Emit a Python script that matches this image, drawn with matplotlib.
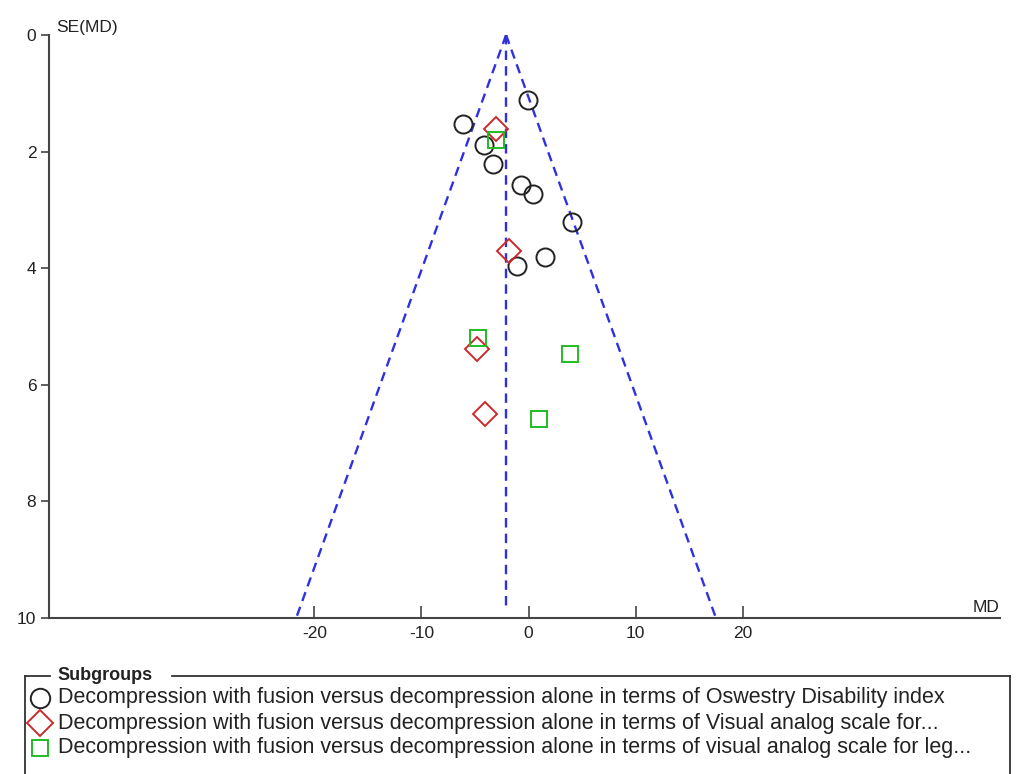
import matplotlib.pyplot as plt
import numpy as np

plt.rcParams['font.family'] = ['Liberation Sans', 'DejaVu Sans']
plt.rcParams['axes.unicode_minus'] = False

# pooled MD and the three subgroups (MD, SE(MD))
pooled_md = -2.1
odi_md = [-0.08, -6.1, -4.16, -3.35, -0.74, 0.44, 4.02, 1.56, -1.05]
odi_se = [1.11, 1.53, 1.89, 2.21, 2.57, 2.72, 3.20, 3.80, 3.97]
vas_back_md = [-3.07, -1.8, -4.85, -4.04]
vas_back_se = [1.62, 3.71, 5.39, 6.50]
vas_leg_md = [-3.0, -4.7, 3.87, 0.97]
vas_leg_se = [1.80, 5.19, 5.48, 6.58]

labels = [
    'Decompression with fusion versus decompression alone in terms of Oswestry Disability index',
    'Decompression with fusion versus decompression alone in terms of Visual analog scale for...',
    'Decompression with fusion versus decompression alone in terms of visual analog scale for leg...',
]
styles = [('o', '#222222', 13), ('D', '#cc2a2a', 12), ('s', '#22bb22', 11)]

fig = plt.figure(figsize=(10.18, 7.74), dpi=100)
ax = fig.add_axes([0.048, 0.2016, 0.934, 0.7532])

# funnel (95% limits)
se_max = 10
blue = '#3030e0'
dash = (0, (4, 2.6))
ax.plot([pooled_md, pooled_md - 1.96 * se_max], [0, se_max], ls=dash, color=blue, lw=1.7)
ax.plot([pooled_md, pooled_md + 1.96 * se_max], [0, se_max], ls=dash, color=blue, lw=1.7)
ax.plot([pooled_md, pooled_md], [0, 9.8], ls=dash, color=blue, lw=1.7)

groups = [(odi_md, odi_se), (vas_back_md, vas_back_se), (vas_leg_md, vas_leg_se)]
for (md, se), (mk, col, ms) in zip(groups, styles):
    ax.plot(md, se, ls='none', marker=mk, ms=ms, mfc='none', mec=col, mew=1.4)

ax.set_xlim(-44.8, 44.0)
ax.set_ylim(10, 0)
ax.set_xticks([-20, -10, 0, 10, 20])
ax.set_yticks([0, 2, 4, 6, 8, 10])
for s in ['top', 'right']:
    ax.spines[s].set_visible(False)
for s in ['left', 'bottom']:
    ax.spines[s].set_color('#444444')
    ax.spines[s].set_linewidth(1.5)
ax.tick_params(axis='x', direction='in', length=9, width=1.2, color='#444444',
               labelsize=12.5, pad=6, labelcolor='#222222')
ax.tick_params(axis='y', direction='out', length=6, width=1.2, color='#444444',
               labelsize=12.5, pad=3, labelcolor='#222222')
ax.text(0.008, 1.0, 'SE(MD)', transform=ax.transAxes, fontsize=12.5, va='bottom', ha='left', color='#222222')
ax.text(1.0, 0.005, 'MD', transform=ax.transAxes, fontsize=12.5, va='bottom', ha='right', color='#222222')

# legend box drawn in pixel space
lax = fig.add_axes([0, 0, 1, 1])
lax.set_xlim(0, 1018)
lax.set_ylim(774, 0)
lax.axis('off')
lc = '#333333'
lax.plot([25, 25], [676, 774], color=lc, lw=1.3)
lax.plot([1010, 1010], [676, 774], color=lc, lw=1.3)
lax.plot([25, 50], [676, 676], color=lc, lw=1.3)
lax.plot([172, 1010], [676, 676], color=lc, lw=1.3)
lax.text(57, 675, 'Subgroups', fontsize=13, fontweight='bold', va='center', ha='left', color='#222222')
for i, (lab, (mk, col, ms)) in enumerate(zip(labels, styles)):
    y = 698 + i * 25
    lax.plot([40], [y], marker=mk, ms=ms + 1, mfc='none', mec=col, mew=1.4)
    lax.text(58, y, lab, fontsize=15.5, va='center', ha='left', color='#222222')

fig.savefig('out.png', dpi=100)
